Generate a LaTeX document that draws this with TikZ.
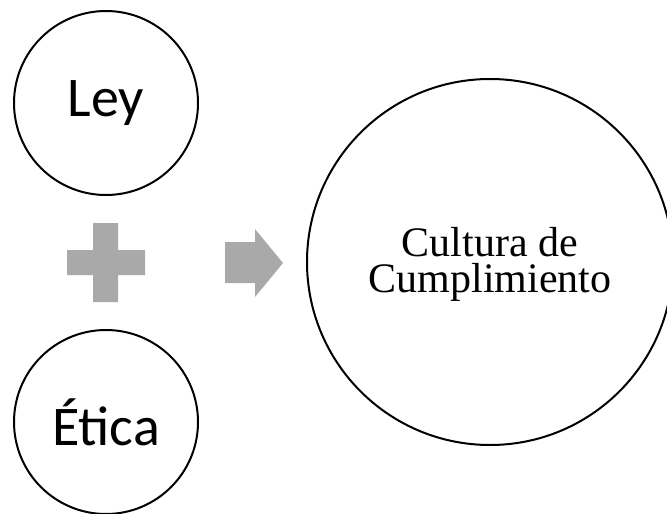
\documentclass[tikz,border=0pt]{standalone}
\usepackage{fontspec}
\setmainfont{Carlito}
\newfontfamily\serifcult{Liberation Serif}
\definecolor{shapegray}{RGB}{169,169,169}
\tikzset{
  circ/.style={circle, draw=black, line width=2pt, inner sep=0pt},
  smallcirc/.style={circ, minimum size=184pt, font=\fontsize{56}{60}\selectfont},
  bigcirc/.style={circ, minimum size=366pt},
  graysym/.style={fill=shapegray, draw=none},
  bigtext/.style={align=center, inner sep=0pt, font=\serifcult\fontsize{42}{36}\selectfont}
}
\begin{document}
\begin{tikzpicture}[x=1pt,y=-1pt]
\useasboundingbox (0,0) rectangle (667,514);
\clip (0,0) rectangle (667,514);
\node[smallcirc] (ley) at (106,103) {Ley};
\node[smallcirc] (etica) at (106,422) {Ética};
\node[bigcirc] (cult) at (490,262) {};
\node[bigtext] (culttext) at (490,264) {Cultura de\\Cumplimiento};
% plus sign
\path[graysym] (93,223) -- (118,223) -- (118,250) -- (145,250) -- (145,275)
  -- (118,275) -- (118,302) -- (93,302) -- (93,275) -- (67,275) -- (67,250)
  -- (93,250) -- cycle;
% block arrow
\path[graysym] (225,242) -- (255,242) -- (255,229) -- (283,263) -- (255,297)
  -- (255,283) -- (225,283) -- cycle;
\end{tikzpicture}
\end{document}
